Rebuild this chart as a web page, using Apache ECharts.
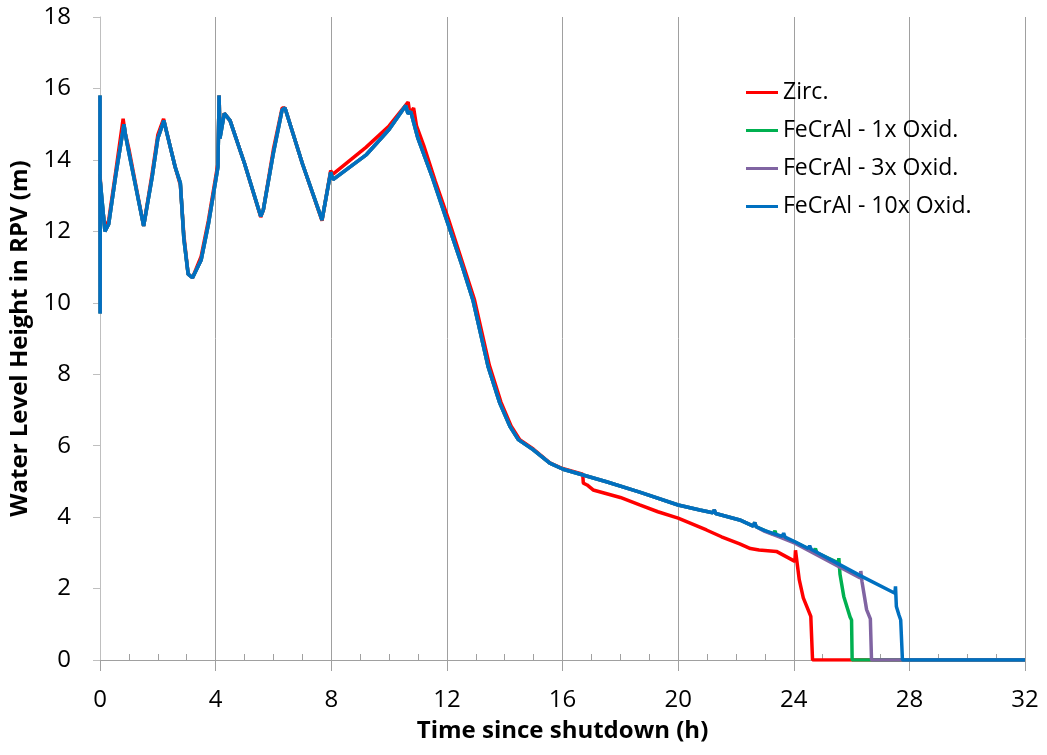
<!DOCTYPE html>
<html><head><meta charset="utf-8">
<script src="https://cdn.jsdelivr.net/npm/echarts@6/dist/echarts.min.js"></script>
<style>html,body{margin:0;padding:0;background:#fff}#c{width:1047px;height:755px}</style>
</head><body><div id="c"></div>
<script>
var seriesNames = ['Zirc.', 'FeCrAl - 1x Oxid.', 'FeCrAl - 3x Oxid.', 'FeCrAl - 10x Oxid.'];
var seriesColors = ['#FF0000', '#00B050', '#8064A2', '#0070C0'];
var xTicks = [0, 4, 8, 12, 16, 20, 24, 28, 32];
var yTicks = [0, 2, 4, 6, 8, 10, 12, 14, 16, 18];

// Zirc. [time h, level m]
var zircData = [
 [0,13.6],[0.05,12.9],[0.17,12.1],[0.3,12.3],[0.55,13.7],[0.8,15.15],[0.86,14.8],[1.0,14.3],[1.51,12.15],[1.8,13.6],[2.0,14.7],[2.2,15.15],[2.3,14.8],
 [2.6,13.8],[2.78,13.3],[2.9,11.9],[3.05,10.8],[3.2,10.7],[3.5,11.3],[3.75,12.3],[4.08,13.9],[4.12,15.8],[4.15,14.7],[4.3,15.3],[4.5,15.1],
 [5.0,13.9],[5.56,12.4],[5.65,12.6],[6.0,14.3],[6.3,15.45],[6.4,15.45],[7.0,13.9],[7.68,12.3],[7.98,13.7],[8.06,13.6],[9.2,14.35],[10.0,14.95],
 [10.66,15.62],[10.72,15.3],[10.85,15.45],[10.95,14.95],[11.2,14.4],[11.6,13.4],[12.05,12.35],[12.55,11.1],[12.95,10.1],[13.47,8.25],[13.87,7.22],
 [14.22,6.55],[14.52,6.17],[15.0,5.9],[15.56,5.52],[16.0,5.36],[16.7,5.2],[16.72,4.95],[16.85,4.9],[17.06,4.76],[18.0,4.55],[18.67,4.34],
 [19.3,4.15],[20.0,3.97],[20.98,3.64],[21.5,3.45],[22.13,3.25],[22.5,3.12],[22.8,3.08],[23.4,3.04],[24.04,2.76],[24.06,3.07],[24.19,2.25],
 [24.33,1.74],[24.59,1.22],[24.62,1.2],[24.65,0],[32,0]
];
// FeCrAl cases share the same early history (curves overlap)
var fecralEarly = [
 [0,15.8],[0.005,9.7],[0.01,13.4],[0.17,12.0],[0.3,12.2],[0.55,13.6],[0.83,15.0],[0.88,14.7],[1.0,14.2],[1.51,12.15],[1.8,13.5],[2.0,14.6],
 [2.21,15.1],[2.3,14.8],[2.6,13.8],[2.78,13.35],[2.9,11.8],[3.05,10.8],[3.2,10.7],[3.5,11.2],[3.75,12.2],[4.08,13.8],[4.12,15.8],[4.15,14.6],
 [4.3,15.3],[4.5,15.1],[5.0,13.9],[5.56,12.42],[5.65,12.6],[6.0,14.2],[6.3,15.4],[6.4,15.45],[7.0,13.9],[7.68,12.32],[7.98,13.65],[8.06,13.45],
 [9.22,14.15],[10.0,14.85],[10.58,15.52],[10.65,15.3],[10.75,15.35],[11.0,14.6],[11.5,13.5],[12.0,12.3],[12.5,11.1],[12.9,10.08],[13.43,8.2],
 [13.83,7.19],[14.18,6.54],[14.47,6.17],[14.98,5.89],[15.56,5.51],[16.02,5.34],[16.71,5.18],[17.52,4.99],[18.67,4.7],[20.0,4.34],[20.75,4.2],
 [21.2,4.12],[21.25,4.2],[21.3,4.1],[22.13,3.92],[22.6,3.75],[22.65,3.85],[22.7,3.73]
];
var fecral1Tail = [
 [23.0,3.62],[23.3,3.52],[23.35,3.62],[23.4,3.5],[24.04,3.3],[24.7,3.03],[24.75,3.12],[24.8,3.0],[25.54,2.72],[25.56,2.85],[25.6,2.4],
 [25.73,1.78],[25.95,1.2],[26.0,1.12],[26.02,0],[32,0]
];
var fecral3Tail = [
 [23.0,3.6],[23.5,3.45],[24.04,3.27],[25.0,2.86],[25.6,2.6],[26.3,2.3],[26.32,2.49],[26.36,2.2],[26.52,1.41],[26.65,1.15],[26.69,0],[32,0]
];
var fecral10Tail = [
 [23.0,3.62],[23.6,3.46],[23.65,3.55],[23.7,3.44],[24.04,3.31],[24.5,3.12],[24.55,3.2],[24.6,3.1],[25.54,2.69],[26.35,2.34],[27.5,1.87],
 [27.52,2.06],[27.55,1.5],[27.64,1.26],[27.7,1.12],[27.76,0],[32,0]
];
var allData = [zircData, fecralEarly.concat(fecral1Tail), fecralEarly.concat(fecral3Tail), fecralEarly.concat(fecral10Tail)];

var chart = echarts.init(document.getElementById('c'));
var series = seriesNames.map(function(n, i){
  return {name:n, type:'line', data:allData[i], showSymbol:false, symbol:'none', z:2+i,
    lineStyle:{color:seriesColors[i], width:3.5}, itemStyle:{color:seriesColors[i]}, animation:false};
});
chart.setOption({
  animation:false,
  backgroundColor:'#fff',
  grid:{left:100, right:22, top:17, bottom:95},
  legend:{orient:'vertical', left:741, top:76, itemWidth:32, itemHeight:3, itemGap:15, icon:'rect',
    textStyle:{fontFamily:'Open Sans', fontSize:23, color:'#000'}, data:seriesNames},
  xAxis:{type:'value', min:xTicks[0], max:xTicks[xTicks.length-1], interval:4,
    name:'Time since shutdown (h)', nameLocation:'middle', nameGap:59,
    nameTextStyle:{fontFamily:'Open Sans', fontWeight:'bold', fontSize:24, color:'#000'},
    axisLine:{lineStyle:{color:'#A0A0A0', width:1}},
    axisTick:{show:true, inside:false, length:11, lineStyle:{color:'#A0A0A0'}},
    minorTick:{show:true, splitNumber:4, length:-6, lineStyle:{color:'#A0A0A0'}},
    splitLine:{show:true, lineStyle:{color:'#A0A0A0', width:1}},
    axisLabel:{margin:28, fontFamily:'Open Sans', fontSize:24, color:'#000',
      formatter:function(v){return xTicks.indexOf(v)>=0?String(v):'';}}},
  yAxis:{type:'value', min:yTicks[0], max:yTicks[yTicks.length-1], interval:2,
    name:'Water Level Height in RPV (m)', nameLocation:'middle', nameGap:52,
    nameTextStyle:{fontFamily:'Open Sans', fontWeight:'bold', fontSize:24, color:'#000'},
    axisLine:{show:true, lineStyle:{color:'#BFBFBF', width:1}},
    axisTick:{show:true, inside:false, length:7, lineStyle:{color:'#BFBFBF'}},
    splitLine:{show:false},
    axisLabel:{margin:29, fontFamily:'Open Sans', fontSize:24, color:'#000',
      formatter:function(v){return yTicks.indexOf(v)>=0?String(v):'';}}},
  series:series
});
</script></body></html>
